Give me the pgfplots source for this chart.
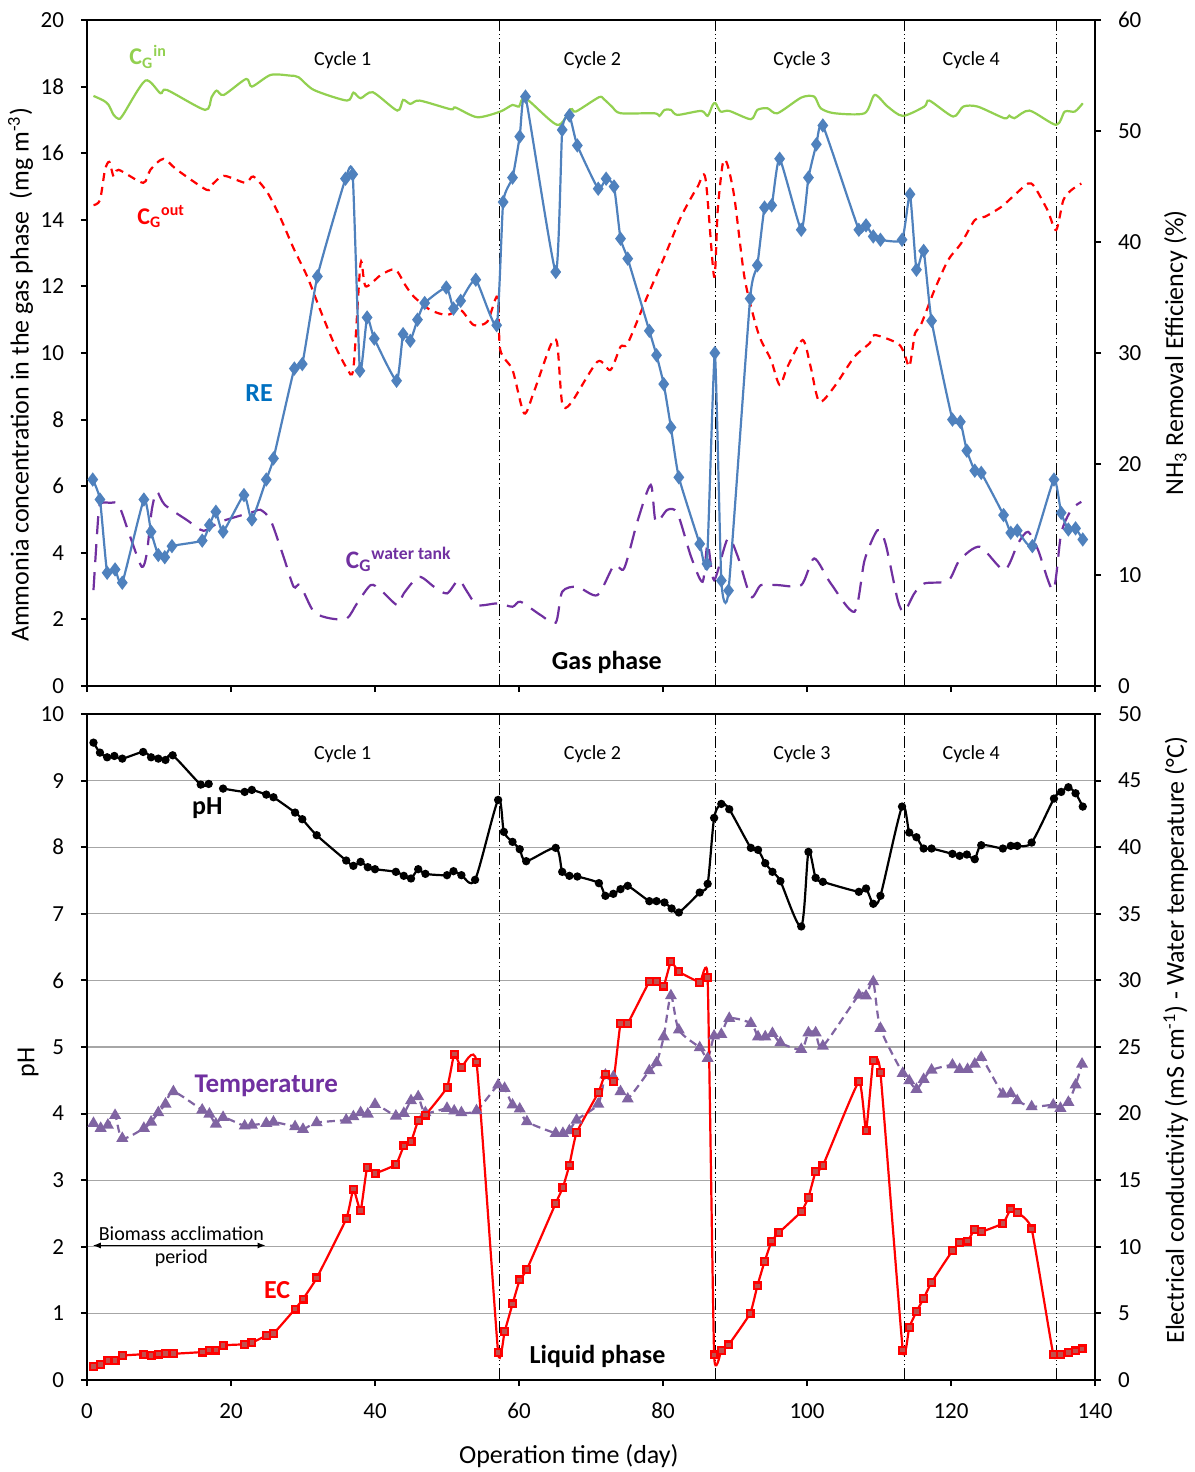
\documentclass[border=0pt]{standalone}
\usepackage{fontspec}
\setmainfont{Carlito}
\usepackage{pgfplots}
\pgfplotsset{compat=1.18}
\usetikzlibrary{arrows.meta}

\definecolor{cin}{HTML}{92D050}
\definecolor{cre}{HTML}{4F81BD}
\definecolor{cwt}{HTML}{7030A0}
\definecolor{ctemp}{HTML}{8064A2}
\definecolor{ecfill}{HTML}{C0504D}
\definecolor{relab}{HTML}{0070C0}

\tikzset{cyc/.style={black, line width=0.6pt, dash pattern=on 6pt off 1.5pt on 0.6pt off 1.5pt on 0.6pt off 1.5pt}}
\pgfplotsset{
  base/.style={
    scale only axis, width=504pt, height=333pt,
    xmin=0, xmax=140, xtick={0,20,...,140},
    tick align=outside, major tick length=3pt,
    axis line style={line width=1.2pt},
    every tick/.style={black, line width=1pt},
    tick label style={font=\fontsize{11.5}{13}\selectfont},
    xticklabel style={yshift=-5pt},
    label style={font=\fontsize{13}{15}\selectfont},
    /pgf/number format/assume math mode=true,
  },
  smoothline/.style={smooth, tension=0.45, line width=1.1pt},
}
\newcommand\cyc{\fontsize{10}{12}\selectfont}

\begin{document}
\begin{tikzpicture}
\useasboundingbox (-43.5pt,-393pt) rectangle (553.5pt,343pt);

% ---------------- gas phase, left axis
\begin{axis}[base, at={(0,0)}, anchor=south west,
  ymin=0, ymax=20, ytick={0,2,...,20},
  yticklabel style={xshift=-5pt},
  xticklabels={}, xtick pos=left, ytick pos=left,
  ylabel={Ammonia concentration in the gas phase\ \ (mg m\textsuperscript{-3})},
  ylabel style={at={(axis description cs:-0.066,0.467)}, anchor=center}]
\foreach \d in {57.3,87.3,113.5,134.6}{
  \edef\tmp{\noexpand\draw[cyc] (axis cs:\d,0) -- (axis cs:\d,20);}\tmp}
% C_G^in
\addplot[smoothline, cin] coordinates {
(0.9,17.72) (2.3,17.58) (3.0,17.45) (3.7,17.15) (4.4,17.03) (5.0,17.15) (8.1,18.18)
(10.2,17.8) (11.1,17.9) (16.4,17.3) (17.3,17.68) (18.0,17.88) (19.0,17.75) (22.1,18.23)
(22.9,18.0) (25.5,18.35) (28.2,18.33) (29.4,18.28) (31.5,17.9) (36.1,17.58) (37.0,17.82)
(38.0,17.65) (39.7,17.83) (43.1,17.28) (43.9,17.6) (44.9,17.48) (46.2,17.58) (50.5,17.32)
(51.2,17.37) (54.2,17.08) (57.4,17.25) (59.1,17.45) (60.0,17.4) (60.9,17.65) (65.3,16.85)
(67.2,17.32) (67.9,17.25) (71.1,17.68) (71.8,17.62) (72.9,17.4) (74.1,17.2) (78.8,17.2)
(79.5,17.12) (80.2,17.3) (81.1,17.3) (82.0,17.15) (85.3,17.27) (86.2,17.12) (86.9,17.45)
(87.3,17.5) (88.0,17.25) (89.2,17.27) (92.2,17.02) (93.1,17.3) (94.5,17.35) (95.9,17.2)
(99.2,17.67) (101.0,17.7) (101.9,17.35) (103.8,17.2) (108.0,17.2) (109.4,17.75) (111.2,17.4)
(113.3,17.12) (116.3,17.4) (117.0,17.58) (120.3,17.1) (121.7,17.4) (123.7,17.4) (127.4,17.05)
(128.1,17.13) (128.8,17.05) (130.9,17.28) (134.6,16.85) (135.8,17.25) (137.2,17.25) (138.3,17.5)};
% C_G^out
\addplot[smoothline, red, dash pattern=on 4pt off 3pt] coordinates {
(0.9,14.44) (1.8,14.59) (2.5,15.5) (3.1,15.74) (3.7,15.3) (4.4,15.5) (7.8,15.11) (8.8,15.5)
(10.6,15.83) (12.5,15.5) (16.6,14.9) (17.3,15.04) (19.0,15.32) (22.0,15.11) (23.1,15.3)
(25.0,14.84) (26.8,14.09) (28.7,13.14) (30.6,12.29) (32.4,11.29) (34.3,10.29) (36.1,9.54)
(37.0,9.54) (38.0,12.69) (38.7,12.0) (40.8,12.34) (42.8,12.51) (44.2,12.04) (45.4,11.69)
(47.7,11.29) (50.0,11.14) (51.9,11.29) (53.7,10.84) (55.6,10.94) (57.0,11.69) (57.4,10.09)
(59.1,9.49) (60.7,8.19) (62.0,8.79) (64.4,10.24) (65.3,10.29) (66.0,8.49) (67.2,8.49)
(70.9,9.74) (72.7,9.49) (74.1,10.19) (75.1,10.29) (77.8,11.69) (80.2,12.89) (82.5,14.09)
(84.8,14.99) (85.9,15.24) (87.1,12.29) (87.6,14.29) (88.3,15.69) (88.9,15.69) (89.9,14.69)
(91.3,12.29) (92.7,10.99) (93.6,10.39) (95.0,9.79) (96.2,9.04) (97.3,9.59) (99.4,10.39)
(100.5,9.59) (101.7,8.54) (103.8,8.99) (106.6,9.89) (108.7,10.29) (109.4,10.54) (112.6,10.29)
(113.5,9.99) (114.2,9.59) (114.7,10.19) (115.0,10.59) (115.9,10.89) (117.7,11.89) (119.6,12.79)
(121.4,13.29) (123.3,13.99) (124.7,14.09) (127.0,14.39) (128.8,14.74) (130.7,15.09) (131.6,14.99)
(133.4,14.29) (134.6,13.69) (135.6,14.59) (136.7,14.89) (138.1,15.09)};
% C_G^water tank
\addplot[smoothline, cwt, dash pattern=on 9pt off 5pt] coordinates {
(0.9,2.88) (1.6,5.19) (2.0,5.49) (3.2,5.50) (4.4,5.44) (6.0,4.48) (7.6,3.58) (8.3,3.98)
(9.0,5.29) (9.7,5.83) (10.8,5.44) (13.9,4.98) (16.2,4.66) (18.5,4.93) (23.1,5.23) (24.1,5.29)
(25.5,4.98) (27.3,3.88) (28.7,2.98) (29.6,3.03) (31.5,2.23) (33.8,2.03) (36.1,2.03) (37.5,2.48)
(39.4,3.03) (40.8,2.88) (43.1,2.43) (44.0,2.78) (46.1,3.28) (48.2,2.98) (50.0,2.78) (51.6,3.18)
(52.8,2.83) (54.2,2.43) (57.0,2.48) (59.1,2.38) (60.2,2.53) (63.0,2.13) (65.1,1.90) (66.0,2.83)
(68.1,2.98) (70.9,2.73) (73.2,3.63) (74.6,3.53) (76.5,4.98) (78.3,6.04) (79.0,4.93) (80.6,5.29)
(82.0,5.19) (83.9,3.88) (85.5,3.13) (86.2,4.28) (87.1,3.18) (89.0,4.43) (90.4,3.88) (92.2,2.68)
(93.6,3.03) (95.9,3.03) (99.2,3.03) (101.0,3.83) (103.3,3.08) (106.6,2.23) (108.0,3.78)
(109.8,4.68) (110.9,4.28) (112.6,2.58) (113.5,2.23) (114.9,2.78) (116.3,3.08) (119.6,3.16)
(121.2,3.78) (124.0,4.18) (127.4,3.48) (129.3,4.28) (130.7,4.63) (132.1,4.08) (134.2,2.88)
(135.3,4.58) (136.7,5.29) (138.1,5.53)};
\node[font=\cyc] at (axis cs:35.5,18.8) {Cycle 1};
\node[font=\cyc] at (axis cs:70.2,18.8) {Cycle 2};
\node[font=\cyc] at (axis cs:99.3,18.8) {Cycle 3};
\node[font=\cyc] at (axis cs:122.8,18.8) {Cycle 4};
\node[font=\fontsize{12}{14}\selectfont\bfseries, text=cin] at (axis cs:8.5,18.9) {C\textsubscript{G}\textsuperscript{in}};
\node[font=\fontsize{12}{14}\selectfont\bfseries, text=red] at (axis cs:10.3,14.1) {C\textsubscript{G}\textsuperscript{out}};
\node[font=\fontsize{13}{15}\selectfont\bfseries, text=relab] at (axis cs:23.9,8.8) {RE};
\node[font=\fontsize{12.6}{14}\selectfont\bfseries, text=cwt] at (axis cs:43.3,3.8) {C\textsubscript{G}\textsuperscript{water tank}};
\node[font=\fontsize{13}{15}\selectfont\bfseries] at (axis cs:72.2,0.72) {Gas phase};
\end{axis}

% ---------------- gas phase, right axis (RE)
\begin{axis}[base, at={(0,0)}, anchor=south west,
  axis y line*=right, axis x line=none,
  ymin=0, ymax=60, ytick={0,10,...,60},
  yticklabel style={xshift=5pt},
  ylabel={NH\textsubscript{3} Removal Efficiency (\%)},
  ylabel style={at={(axis description cs:1.080,0.5)}, anchor=center}]
\addplot[smoothline, tension=0.3, cre, mark=diamond*, mark size=2.7pt, mark options={solid, fill=cre, draw=cre}] coordinates {
(0.8,18.6) (1.8,16.8) (2.8,10.2) (3.9,10.5) (4.9,9.3) (7.9,16.8) (8.9,13.9) (9.9,11.8)
(10.8,11.6) (11.8,12.6) (16.0,13.1) (17.0,14.5) (17.9,15.7) (18.9,13.9) (21.8,17.2) (22.9,15.0)
(24.9,18.6) (25.9,20.5) (28.8,28.6) (29.9,29.0) (32.0,36.9) (35.9,45.7) (36.9,46.1) (37.9,28.4)
(38.9,33.2) (39.9,31.3) (43.0,27.5) (43.9,31.7) (44.9,31.1) (45.9,33.0) (46.9,34.5) (49.9,35.9)
(50.9,34.0) (51.9,34.7) (54.0,36.6) (56.9,32.5) (57.8,43.6) (59.1,45.8) (60.1,49.5) (60.9,53.1)
(65.1,37.3) (66.0,50.1) (67.0,51.4) (68.1,48.7) (71.0,44.8) (72.1,45.7) (73.2,45.0) (74.1,40.3)
(75.1,38.5) (78.1,32.0) (79.1,29.8) (80.1,27.2) (81.1,23.3) (82.2,18.8) (85.1,12.8) (86.1,11.0)
(87.2,30.0) (88.1,9.5) (89.1,8.6) (92.1,34.9) (93.1,37.9) (94.1,43.1) (95.1,43.3) (96.2,47.5)
(99.2,41.1) (100.2,45.8) (101.3,48.8) (102.2,50.5) (107.2,41.1) (108.2,41.5) (109.2,40.5)
(110.2,40.2) (113.2,40.2) (114.3,44.3) (115.2,37.5) (116.2,39.2) (117.3,32.9) (120.2,24.0)
(121.3,23.8) (122.2,21.2) (123.3,19.4) (124.2,19.2) (127.3,15.4) (128.3,13.8) (129.2,14.0)
(131.3,12.6) (134.3,18.6) (135.3,15.6) (136.3,14.1) (137.3,14.2) (138.3,13.2)};
\end{axis}

% ---------------- liquid phase, left axis (pH)
\begin{axis}[base, at={(0,-347pt)}, anchor=south west,
  ymin=0, ymax=10, ytick={0,1,...,10},
  yticklabel style={xshift=-5pt},
  xtick pos=left, ytick pos=left,
  ymajorgrids, grid style={gray!70, line width=0.6pt},
  ylabel={pH},
  ylabel style={at={(axis description cs:-0.0585,0.477)}, anchor=center},
  xlabel={Operation time (day)},
  xlabel style={at={(axis description cs:0.478,-0.114)}, anchor=center}]
\foreach \d in {57.3,87.3,113.5,134.6}{
  \edef\tmp{\noexpand\draw[cyc] (axis cs:\d,0) -- (axis cs:\d,10);}\tmp}
\addplot[smoothline, black, mark=*, mark size=1.5pt] coordinates {
(0.9,9.57) (1.8,9.42) (2.8,9.35) (3.8,9.37) (4.9,9.33) (7.8,9.43) (8.9,9.35) (9.9,9.33)
(10.9,9.31) (11.9,9.38) (15.8,8.94) (16.9,8.95)};
\addplot[smoothline, black, mark=*, mark size=1.5pt] coordinates {
(18.9,8.88) (21.9,8.83) (22.9,8.86) (24.9,8.79) (25.9,8.75) (28.9,8.52) (29.9,8.42) (31.9,8.18)
(36.0,7.80) (37.0,7.72) (38.0,7.78) (39.0,7.70) (40.0,7.67) (42.9,7.63) (44.0,7.57) (45.0,7.53)
(46.0,7.67) (47.0,7.60) (50.0,7.58) (50.9,7.64) (52.0,7.58) (53.9,7.51) (57.1,8.71) (57.9,8.23)
(59.1,8.08) (60.1,7.97) (61.0,7.79) (65.1,7.99) (66.0,7.63) (67.0,7.57) (68.1,7.56) (71.1,7.46)
(72.0,7.27) (73.1,7.30) (74.1,7.37) (75.1,7.42) (78.1,7.19) (79.1,7.19) (80.2,7.17) (81.2,7.08)
(82.2,7.02) (85.1,7.32) (86.2,7.45) (87.1,8.44) (88.1,8.65) (89.2,8.57) (92.2,7.99) (93.2,7.96)
(94.2,7.76) (95.2,7.63) (96.3,7.49) (99.2,6.81) (100.2,7.93) (101.2,7.54) (102.2,7.48)
(107.2,7.33) (108.2,7.38) (109.2,7.15) (110.2,7.27) (113.2,8.61) (114.2,8.22) (115.2,8.15)
(116.2,7.98) (117.3,7.98) (120.2,7.90) (121.2,7.87) (122.2,7.89) (123.3,7.82) (124.2,8.03)
(127.2,7.98) (128.3,8.02) (129.2,8.02) (131.2,8.07) (134.3,8.73) (135.3,8.83) (136.3,8.90)
(137.3,8.81) (138.3,8.61)};
\node[font=\cyc] at (axis cs:35.5,9.4) {Cycle 1};
\node[font=\cyc] at (axis cs:70.2,9.4) {Cycle 2};
\node[font=\cyc] at (axis cs:99.3,9.4) {Cycle 3};
\node[font=\cyc] at (axis cs:122.8,9.4) {Cycle 4};
\node[font=\fontsize{13}{15}\selectfont\bfseries] at (axis cs:16.7,8.59) {pH};
\node[font=\fontsize{13.5}{15}\selectfont\bfseries, text=cwt] at (axis cs:24.9,4.41) {Temperature};
\node[font=\fontsize{13}{15}\selectfont\bfseries, text=red] at (axis cs:26.4,1.35) {EC};
\node[font=\cyc] at (axis cs:13.1,2.2) {Biomass acclimation};
\node[font=\cyc] at (axis cs:13.1,1.83) {period};
\draw[{Latex[length=4pt]}-{Latex[length=4pt]}, line width=0.6pt] (axis cs:0.8,2.02) -- (axis cs:24.8,2.02);
\node[font=\fontsize{13}{15}\selectfont\bfseries] at (axis cs:70.9,0.35) {Liquid phase};
\end{axis}

% ---------------- liquid phase, right axis (EC, temperature)
\begin{axis}[base, at={(0,-347pt)}, anchor=south west,
  axis y line*=right, axis x line=none,
  ymin=0, ymax=50, ytick={0,5,...,50},
  yticklabel style={xshift=5pt},
  ylabel={Electrical conductivity (mS cm\textsuperscript{-1}) - Water temperature (°C)},
  ylabel style={at={(axis description cs:1.080,0.51)}, anchor=center}]
\addplot[smoothline, ctemp, dash pattern=on 4pt off 2.5pt, mark=triangle*, mark size=2.4pt, mark options={solid, fill=ctemp, draw=ctemp}] coordinates {
(0.9,19.27) (1.9,18.9) (2.9,19.14) (3.9,19.87) (4.9,18.14) (7.9,18.9) (8.9,19.37) (9.9,20.07)
(10.9,20.72) (12.0,21.65) (16.0,20.27) (17.0,19.97) (17.9,19.22) (18.9,19.72) (21.9,19.07)
(22.9,19.14) (24.9,19.27) (25.9,19.37) (28.9,19.02) (30.0,18.82) (31.9,19.32) (36.0,19.52)
(37.0,19.77) (38.0,20.07) (39.0,19.97) (40.0,20.70) (42.9,19.82) (44.0,20.02) (45.0,20.97)
(46.0,21.27) (47.0,20.07) (50.0,20.40) (51.0,20.20) (52.0,20.07) (54.1,20.22) (57.1,22.15)
(58.0,21.9) (59.1,20.65) (60.1,20.35) (61.1,19.39) (65.1,18.52) (66.1,18.52) (67.0,18.72)
(68.0,19.52) (71.0,20.72) (72.0,22.90) (73.1,22.77) (74.1,21.65) (75.1,21.10) (78.1,23.22)
(79.1,23.82) (80.1,25.77) (81.1,28.85) (82.2,26.28) (85.1,24.95) (86.2,24.15) (87.1,25.83)
(88.1,25.95) (89.2,27.15) (92.2,26.78) (93.2,25.77) (94.2,25.77) (95.2,26.02) (96.3,25.32)
(99.2,24.82) (100.2,26.07) (101.2,26.07) (102.2,25.07) (107.2,28.9) (108.2,28.83) (109.2,29.9)
(110.2,26.4) (113.3,23.03) (114.2,22.47) (115.2,21.82) (116.2,22.57) (117.3,23.27) (120.2,23.65)
(121.2,23.32) (122.3,23.32) (123.3,23.72) (124.2,24.22) (127.2,21.47) (128.3,21.52) (129.2,20.97)
(131.2,20.52) (134.2,20.65) (135.2,20.40) (136.3,20.85) (137.3,22.15) (138.2,23.72)};
\addplot[smoothline, tension=0.25, red, mark=square*, mark size=1.7pt, mark options={fill=ecfill, draw=red}] coordinates {
(0.9,1.00) (1.9,1.18) (2.9,1.45) (3.9,1.45) (4.9,1.83) (7.9,1.93) (8.9,1.85) (9.9,1.95)
(10.9,2.00) (12.0,1.97) (16.0,2.10) (17.0,2.25) (17.9,2.25) (18.9,2.60) (21.9,2.68) (22.9,2.80)
(24.9,3.33) (25.9,3.48) (28.9,5.33) (30.0,6.08) (31.9,7.66) (36.0,12.09) (37.0,14.34) (38.0,12.71)
(38.9,15.94) (40.0,15.52) (42.9,16.19) (44.0,17.57) (45.0,17.89) (46.0,19.47) (47.0,19.89)
(50.0,21.97) (51.0,24.47) (52.0,23.48) (54.1,23.87) (57.1,2.05) (58.0,3.63) (59.1,5.71)
(60.1,7.51) (61.1,8.31) (65.1,13.27) (66.1,14.47) (67.0,16.14) (68.0,18.57) (71.0,21.57)
(72.0,22.97) (73.1,22.40) (74.1,26.78) (75.1,26.78) (78.1,29.9) (79.1,29.9) (80.1,29.58)
(81.1,31.40) (82.2,30.65) (85.1,29.86) (86.2,30.20) (87.1,1.88) (88.1,2.20) (89.1,2.63)
(92.1,5.00) (93.1,7.06) (94.1,8.88) (95.1,10.43) (96.1,11.06) (99.2,12.64) (100.2,13.72)
(101.2,15.64) (102.2,16.09) (107.2,22.40) (108.2,18.72) (109.2,23.97) (110.2,23.07) (113.3,2.25)
(114.2,3.96) (115.2,5.13) (116.2,6.13) (117.3,7.33) (120.2,9.71) (121.2,10.31) (122.3,10.43)
(123.3,11.31) (124.2,11.13) (127.2,11.76) (128.3,12.84) (129.2,12.59) (131.2,11.34) (134.2,1.93)
(135.2,1.93) (136.3,2.08) (137.3,2.18) (138.2,2.33)};
\end{axis}
\end{tikzpicture}
\end{document}
